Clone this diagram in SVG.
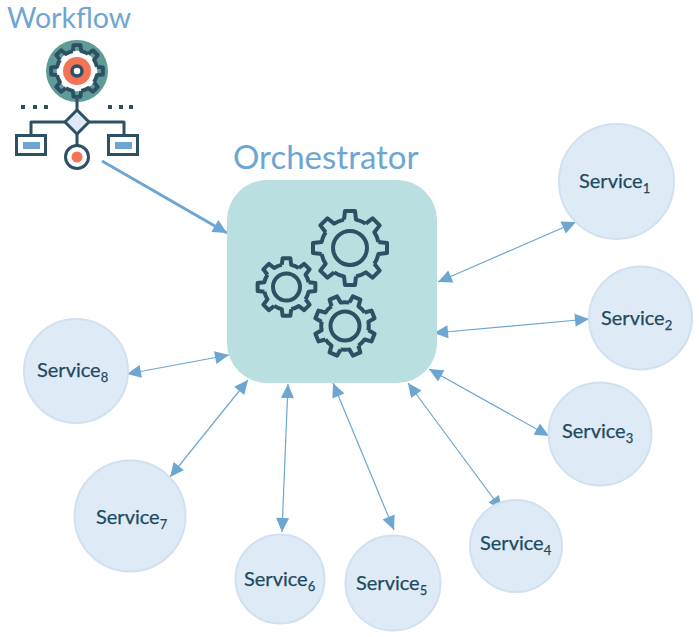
<svg xmlns="http://www.w3.org/2000/svg" xmlns:xlink="http://www.w3.org/1999/xlink" width="699" height="637" viewBox="0 0 699 637">
<style>
text{font-family:Lato,"Noto Sans",sans-serif}
.title{fill:#6ea6d2}
.svc{fill:#deeaf6;stroke:#d2e0f0;stroke-width:2}
.lbl{fill:#1f4a60;font-size:20px;stroke:#1f4a60;stroke-width:.25}
.sub{font-size:13px}
.link{stroke:#6ea6d2;stroke-width:1.2;fill:none;marker-start:url(#head);marker-end:url(#head)}
.dark{stroke:#2d5064;fill:none;stroke-linejoin:round}
.gear{fill:none;stroke:#2d5064;stroke-linejoin:round}
</style>
<defs>
<marker id="head" markerUnits="userSpaceOnUse" markerWidth="16" markerHeight="16" refX="15" refY="8" orient="auto-start-reverse"><path d="M1 1.5L15 8L1 14.5z" fill="#6ea6d2"/></marker>
<marker id="headBig" markerUnits="userSpaceOnUse" markerWidth="16" markerHeight="16" refX="15" refY="8" orient="auto"><path d="M1 1L15 8L1 15z" fill="#6ea6d2"/></marker>
<path id="tooth" d="M-6 -28.4L-5 -37L5 -37L6 -28.4A29 29 0 0 1 15.84 -24.3"/>
<g id="gearShape">
<use xlink:href="#tooth" href="#tooth"/>
<use xlink:href="#tooth" href="#tooth" transform="rotate(45)"/>
<use xlink:href="#tooth" href="#tooth" transform="rotate(90)"/>
<use xlink:href="#tooth" href="#tooth" transform="rotate(135)"/>
<use xlink:href="#tooth" href="#tooth" transform="rotate(180)"/>
<use xlink:href="#tooth" href="#tooth" transform="rotate(225)"/>
<use xlink:href="#tooth" href="#tooth" transform="rotate(270)"/>
<use xlink:href="#tooth" href="#tooth" transform="rotate(315)"/>
</g>
</defs>
<g id="connectors">
<path class="link" d="M438 282L576 222"/>
<path class="link" d="M434 333L589 319"/>
<path class="link" d="M429 369L549 436"/>
<path class="link" d="M408 383L502 510"/>
<path class="link" d="M333 383L394 530"/>
<path class="link" d="M288 384L282 532"/>
<path class="link" d="M248 380L170 477"/>
<path class="link" d="M229 355L127 374"/>
<path d="M102 161L227 233" fill="none" stroke="#6ea6d2" stroke-width="3" marker-end="url(#headBig)"/>
</g>
<g id="workflow">
<text class="title" x="7" y="28" font-size="28.500">Workflow</text>
<circle cx="77" cy="71" r="31" fill="#5f9b97"/>
<g transform="translate(77 71) scale(.7)" class="gear" stroke-width="5.500"><circle r="29" fill="#fff" stroke="none"/><use xlink:href="#gearShape" href="#gearShape"/></g>
<circle cx="77" cy="71" r="14" fill="#f47356"/>
<circle cx="77" cy="71" r="5" fill="#fff" stroke="#2d5064" stroke-width="3.500"/>
<path class="dark" stroke-width="3" d="M77 99V110M77 134V146M65 122H31V135M89 122H124V135"/>
<path d="M77 110L89 122L77 134L65 122z" fill="#deeaf6" stroke="#2d5064" stroke-width="3" stroke-linejoin="round"/>
<rect x="16.500" y="135.500" width="29" height="19" fill="#fff" stroke="#2d5064" stroke-width="3"/>
<rect x="108.500" y="135.500" width="29" height="19" fill="#fff" stroke="#2d5064" stroke-width="3"/>
<rect x="23" y="142" width="17" height="7" fill="#6ea6d2"/>
<rect x="115" y="142" width="17" height="7" fill="#6ea6d2"/>
<circle cx="77" cy="157" r="11.500" fill="#fff" stroke="#2d5064" stroke-width="3"/>
<circle cx="77" cy="157" r="5.500" fill="#f47356"/>
<path d="M21 105h4v4h-4zM33 105h4v4h-4zM44 105h4v4h-4zM108 105h4v4h-4zM119 105h4v4h-4zM129 105h4v4h-4z" fill="#2d5064"/>
</g>
<g id="orchestrator">
<text class="title" x="233" y="169" font-size="33">Orchestrator</text>
<rect x="227" y="180" width="210" height="203" rx="40" fill="#b9dfe0"/>
<g transform="translate(350 248)" class="gear" stroke-width="4"><use xlink:href="#gearShape" href="#gearShape"/></g>
<circle cx="350" cy="248" r="17" class="gear" stroke-width="4"/>
<g transform="translate(286.500 287) scale(.78)" class="gear" stroke-width="5.100"><use xlink:href="#gearShape" href="#gearShape"/></g>
<circle cx="286.500" cy="287" r="13.500" class="gear" stroke-width="4"/>
<g transform="translate(345 326) rotate(22.500) scale(.82)" class="gear" stroke-width="4.900"><use xlink:href="#gearShape" href="#gearShape"/></g>
<circle cx="345" cy="326" r="14.500" class="gear" stroke-width="4"/>
</g>
<g id="service1"><circle class="svc" cx="616.500" cy="181.500" r="57.500"/><text class="lbl" x="579" y="188">Service<tspan class="sub" dy="5">1</tspan></text></g>
<g id="service2"><circle class="svc" cx="640.500" cy="318" r="51.500"/><text class="lbl" x="601" y="325">Service<tspan class="sub" dy="5">2</tspan></text></g>
<g id="service3"><circle class="svc" cx="600" cy="434" r="51.500"/><text class="lbl" x="562" y="438">Service<tspan class="sub" dy="5">3</tspan></text></g>
<g id="service4"><circle class="svc" cx="516" cy="546" r="46"/><text class="lbl" x="480" y="550">Service<tspan class="sub" dy="5">4</tspan></text></g>
<g id="service5"><circle class="svc" cx="393" cy="583" r="47.500"/><text class="lbl" x="356" y="590">Service<tspan class="sub" dy="5">5</tspan></text></g>
<g id="service6"><circle class="svc" cx="280" cy="579" r="44.500"/><text class="lbl" x="244" y="586">Service<tspan class="sub" dy="5">6</tspan></text></g>
<g id="service7"><circle class="svc" cx="130" cy="516" r="55.500"/><text class="lbl" x="96" y="524">Service<tspan class="sub" dy="5">7</tspan></text></g>
<g id="service8"><circle class="svc" cx="76" cy="371" r="52"/><text class="lbl" x="37" y="377">Service<tspan class="sub" dy="5">8</tspan></text></g>
</svg>
